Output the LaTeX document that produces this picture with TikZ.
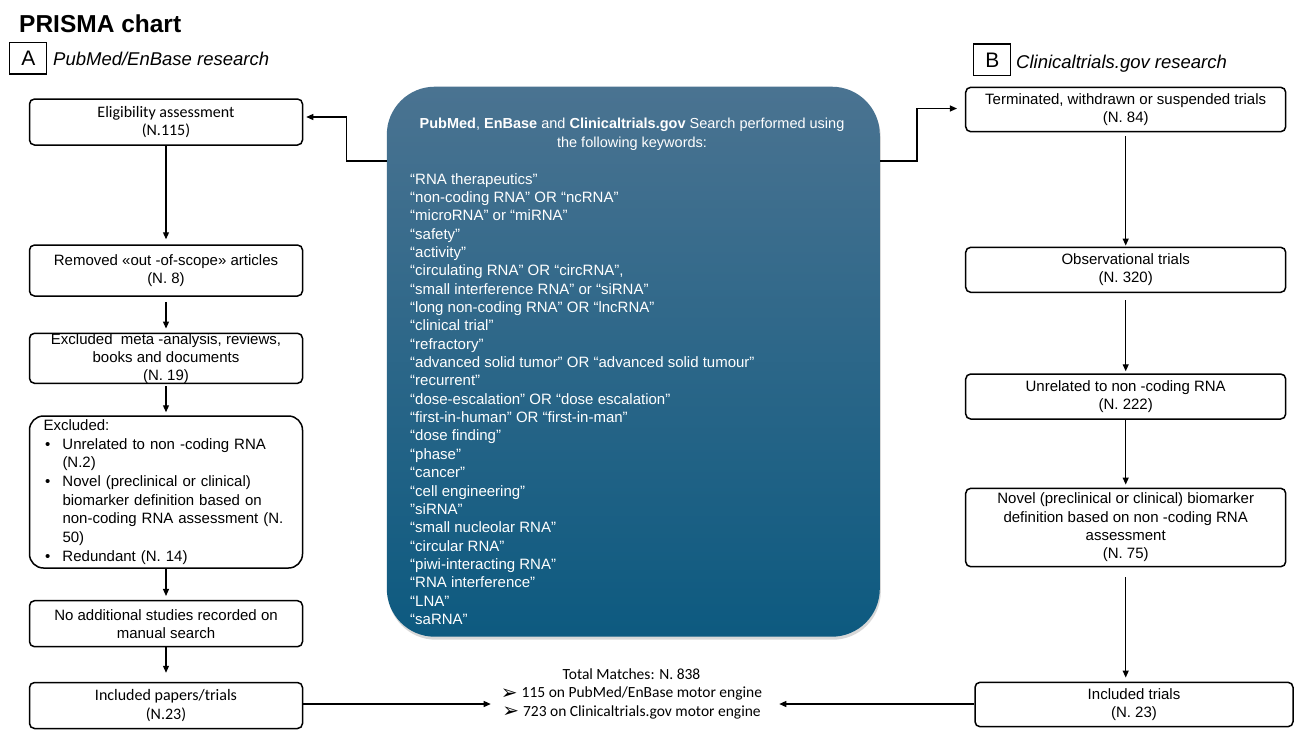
\documentclass[tikz,border=0pt]{standalone}
\usepackage{fontspec}
\setmainfont{Liberation Sans}
\newfontfamily\carl{Carlito}
\newfontfamily\djv{DejaVu Sans}
\usetikzlibrary{arrows.meta,shadows,calc}
\definecolor{kwtop}{RGB}{74,115,145}
\definecolor{kwbot}{RGB}{13,90,128}
\newcommand{\mybul}{\makebox[19pt][l]{\hspace{1.5pt}\textbullet}}
\newcommand{\myind}{\hspace*{19pt}}
\newcommand{\myarr}{\raisebox{-1.5pt}{\djv\fontsize{20}{16}\selectfont ➢}}
\begin{document}
\begin{tikzpicture}[x=1pt,y=-1pt,
  box/.style={draw=black, line width=1.5pt, rounded corners=5pt, minimum width=273pt, align=center, inner sep=0pt, font=\fontsize{15}{18}\selectfont},
  rbox/.style={box, minimum width=320pt},
  arr/.style={-{Triangle[length=7pt,width=6pt]}, line width=1.2pt},
  lab/.style={draw=black, line width=1.2pt, minimum width=37pt, minimum height=31.5pt, inner sep=0pt, font=\fontsize{21}{21}\selectfont},
  ttl/.style={inner sep=0pt, font=\fontsize{18.5}{20}\selectfont\itshape},
  kwtext/.style={text=white, inner sep=0pt}]
\useasboundingbox (0,0) rectangle (1295,732);
\fill[white] (0,0) rectangle (1295,732);

% headers
\node[anchor=base west, inner sep=0pt, font=\fontsize{24.5}{26}\selectfont\bfseries] (title) at (19,32.3) {PRISMA chart};
\node[lab] (la) at (28.3,58.2) {A};
\node[ttl, anchor=base west] (ta) at (53,65.7) {PubMed/EnBase research};
\node[lab] (lb) at (992.3,59.8) {B};
\node[ttl, anchor=base west] (tb) at (1016,68.3) {Clinicaltrials.gov research};

% left column
\node[box, minimum height=46pt, font=\carl\fontsize{16}{18.5}\selectfont] (elig) at (166,122) {Eligibility assessment\\(N.115)};
\node[box, minimum height=51pt] (rem) at (166,270.5) {Removed «out -of-scope» articles\\(N. 8)};
\node[box, minimum height=50pt] (meta) at (166,358.3) {Excluded\ \ meta -analysis, reviews,\\books and documents\\(N. 19)};
\node[box, rounded corners=14pt, minimum height=152pt, text width=245pt, align=left, font=\fontsize{15}{18.7}\selectfont] (excl) at (166,492) {Excluded:\\
\mybul Unrelated to non -coding RNA\\
\myind (N.2)\\
\mybul Novel (preclinical or clinical)\\
\myind biomarker definition based on\\
\myind non-coding RNA assessment (N.\\
\myind 50)\\
\mybul Redundant (N.\ 14)};
\node[box, minimum height=46pt] (none) at (166,623.7) {No additional studies recorded on\\manual search};
\node[box, minimum height=46pt, font=\carl\fontsize{16}{18.5}\selectfont] (incl) at (166,705.5) {Included papers/trials\\(N.23)};

% right column
\node[rbox, minimum height=44.4pt] (term) at (1125.7,109.5) {Terminated, withdrawn or suspended trials\\(N. 84)};
\node[rbox, minimum height=45pt] (obs) at (1125.7,269.8) {Observational trials\\(N. 320)};
\node[rbox, minimum height=45pt] (unr) at (1125.7,396.5) {Unrelated to non -coding RNA\\(N. 222)};
\node[rbox, minimum height=78.4pt, font=\fontsize{15}{18.3}\selectfont] (nov) at (1125.7,527.5) {Novel (preclinical or clinical) biomarker\\definition based on non -coding RNA\\assessment\\(N. 75)};
\node[rbox, minimum width=318pt, minimum height=44.4pt] (inct) at (1134,704.5) {Included trials\\(N. 23)};

% centre box
\node[rounded corners=48pt, top color=kwtop, bottom color=kwbot, minimum width=493pt, minimum height=550pt, inner sep=0pt,
  drop shadow={opacity=0.3, shadow xshift=1pt, shadow yshift=-3pt}] (kw) at (633.3,361.7) {};
\node[kwtext, align=center, font=\fontsize{14.5}{19}\selectfont] (kwh) at (632,134) {\textbf{PubMed}, \textbf{EnBase} and \textbf{Clinicaltrials.gov} Search performed using\\the following keywords:};
\node[kwtext, anchor=north west, align=left, font=\fontsize{15}{18.35}\selectfont] (kwl) at (410,173) {“RNA therapeutics”\\
“non-coding RNA” OR “ncRNA”\\
“microRNA” or “miRNA”\\
“safety”\\
“activity”\\
“circulating RNA” OR “circRNA”,\\
“small interference RNA” or “siRNA”\\
“long non-coding RNA” OR “lncRNA”\\
“clinical trial”\\
“refractory”\\
“advanced solid tumor” OR “advanced solid tumour”\\
“recurrent”\\
“dose-escalation” OR “dose escalation”\\
“first-in-human” OR “first-in-man”\\
“dose finding”\\
“phase”\\
“cancer”\\
“cell engineering”\\
”siRNA”\\
“small nucleolar RNA”\\
“circular RNA”\\
“piwi-interacting RNA”\\
“RNA interference”\\
“LNA”\\
“saRNA”};

% totals
\node[align=center, inner sep=0pt, font=\carl\fontsize{15.5}{18.5}\selectfont] (tm) at (631.5,693.5) {Total Matches: N. 838\\\myarr\hspace{4pt}115 on PubMed/EnBase motor engine\\\myarr\hspace{4pt}723 on Clinicaltrials.gov motor engine};

% connectors
\coordinate (kwrow) at (0,161);
\draw[arr, shorten >=3pt] (kw.west |- kwrow) -- ++(-40,0) |- ([yshift=5pt]elig.east);
\draw[arr, shorten >=8pt] (kw.east |- kwrow) -- ++(37,0) |- ([yshift=1pt]term.west);

\draw[arr, shorten >=5pt] (elig) -- (rem);
\draw[arr, shorten <=5pt, shorten >=4pt] (rem) -- (meta);
\draw[arr, shorten <=2pt, shorten >=3pt] (meta) -- (excl);
\draw[arr, shorten >=4pt] (excl) -- (none);
\draw[arr, shorten >=9pt] (none) -- (incl);

\draw[arr, shorten <=4pt, shorten >=1pt] (term) -- (obs);
\draw[arr, shorten <=7pt, shorten >=2pt] (obs) -- (unr);
\draw[arr, shorten >=3pt] (unr) -- (nov);
\draw[arr, shorten <=10pt, shorten >=4pt] (nov.south) -- (nov.south |- inct.north);

\draw[arr, shorten >=10pt] ([yshift=1.5pt]incl.east) -- ([yshift=1.5pt]incl.east -| tm.west);
\draw[arr, shorten >=17pt] ([yshift=0.5pt]inct.west) -- ([yshift=0.5pt]inct.west -| tm.east);
\end{tikzpicture}
\end{document}
